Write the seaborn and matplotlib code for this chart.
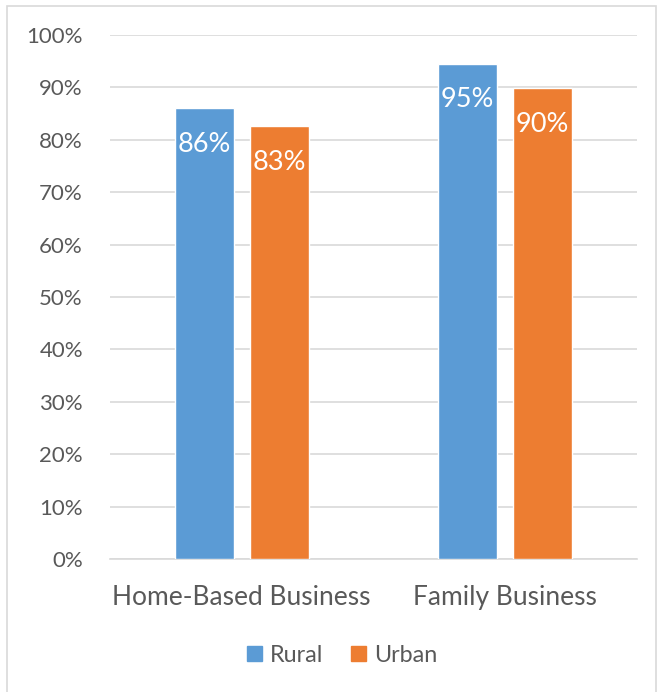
import matplotlib
matplotlib.use("Agg")
import matplotlib.pyplot as plt
import seaborn as sns
import pandas as pd
from matplotlib.patches import Rectangle
from matplotlib.ticker import PercentFormatter

categories = ["Home-Based Business", "Family Business"]
series = ["Rural", "Urban"]
rural = [0.86, 0.945]
urban = [0.826, 0.899]
rural_labels = ["86%", "95%"]
urban_labels = ["83%", "90%"]

df = pd.DataFrame({
    "category": categories * 2,
    "area": ["Rural"] * 2 + ["Urban"] * 2,
    "value": rural + urban,
})

sns.set_theme(style="white")
plt.rcParams["font.family"] = ["Lato", "DejaVu Sans"]

fig = plt.figure(figsize=(6.6, 6.92), dpi=100)
ax = fig.add_axes([110 / 660, 1 - 559 / 692, 527 / 660, 524 / 692])

# outer chart frame
fig.patches.append(Rectangle((7 / 660, -0.1), (656 - 7) / 660, 1.1 - 6 / 692,
                             transform=fig.transFigure, fill=False,
                             edgecolor="#d9d9d9", linewidth=1.2))

palette = {"Rural": "#5B9BD5", "Urban": "#ED7D31"}
sns.barplot(data=df, x="category", y="value", hue="area", order=categories,
            hue_order=series, palette=palette, width=0.57, gap=0.21,
            saturation=1, ax=ax, legend=True, zorder=3)

ax.set_ylim(0, 1.0)
ax.set_xlim(-0.5, 1.5)
ax.yaxis.set_major_locator(plt.MultipleLocator(0.1))
ax.yaxis.set_major_formatter(PercentFormatter(1.0, decimals=0))
ax.grid(axis="y", color="#d9d9d9", linewidth=1.2, zorder=0)
ax.set_axisbelow(True)
for s in ["top", "right", "left"]:
    ax.spines[s].set_visible(False)
ax.spines["bottom"].set_color("#d9d9d9")
ax.spines["bottom"].set_linewidth(1.2)
ax.set_xlabel("")
ax.set_ylabel("")
ax.tick_params(axis="y", length=0, pad=19.5, labelsize=16, labelcolor="#595959")
ax.tick_params(axis="x", length=0, pad=19, labelsize=19, labelcolor="#595959")

for cont, labs in zip(ax.containers, [rural_labels, urban_labels]):
    for bar, lab in zip(cont, labs):
        ax.annotate(lab, xy=(bar.get_x() + bar.get_width() / 2, bar.get_height()),
                    xytext=(0, -17), textcoords="offset points", ha="center",
                    va="top", color="white", fontsize=19.5, zorder=4)

leg = ax.get_legend()
leg.remove()
handles = [Rectangle((0, 0), 1, 1, color=palette[s]) for s in series]
fig.legend(handles, series, loc="center", bbox_to_anchor=(342 / 660, 1 - 655 / 692),
           ncol=2, frameon=False, fontsize=16.8, labelcolor="#595959",
           handlelength=0.62, handleheight=0.62, handletextpad=0.35, columnspacing=1.2)

fig.savefig("out.png", dpi=100)
